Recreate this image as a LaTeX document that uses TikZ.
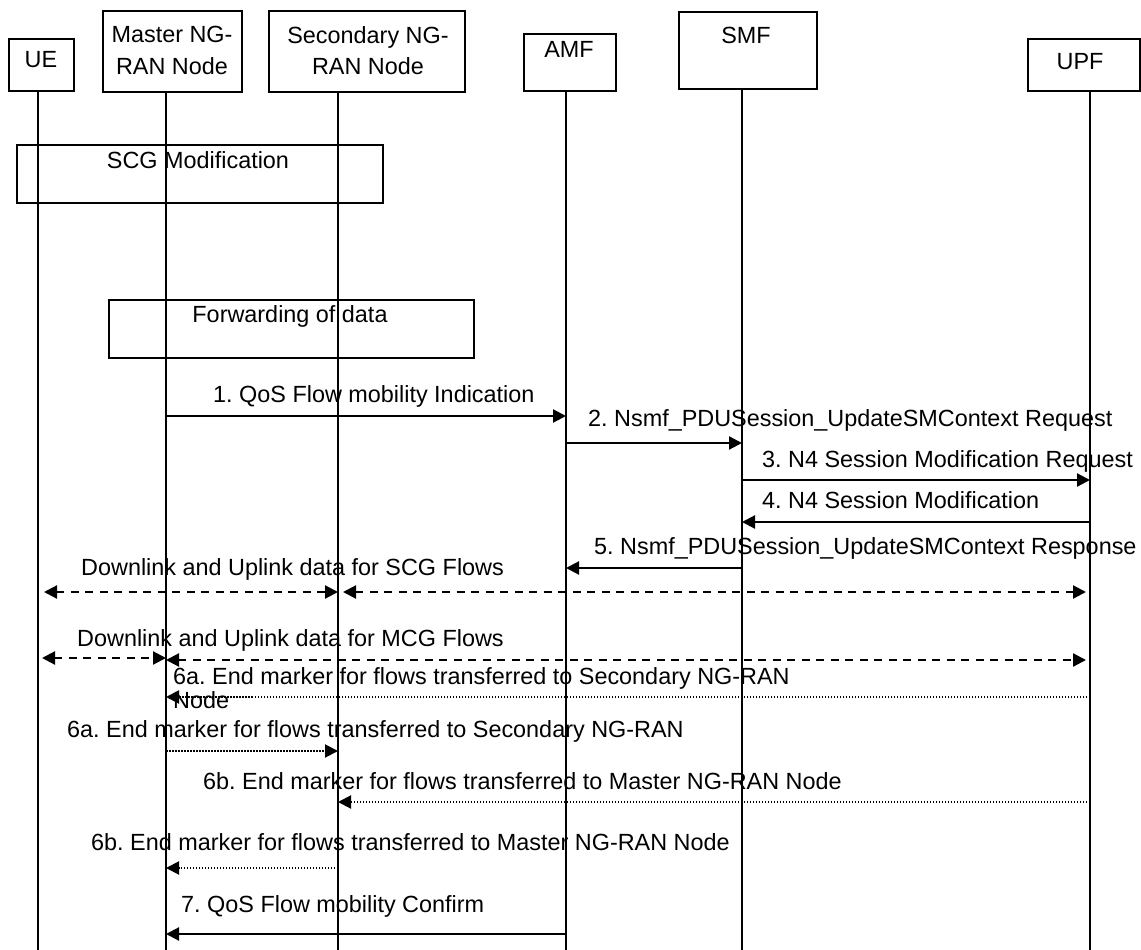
\documentclass[tikz,border=0pt]{standalone}
\usepackage{fontspec}
\setmainfont{Liberation Sans}
\usetikzlibrary{arrows.meta, positioning}
\frenchspacing

\begin{document}
\begin{tikzpicture}[
      x=1pt, y=-1pt,
      font=\fontsize{23.4}{24}\selectfont,
      head/.style={rectangle, draw, line width=1.8pt, anchor=north west, inner sep=0pt},
      grp/.style={rectangle, draw, line width=1.8pt, anchor=north west, inner sep=0pt},
      txt/.style={inner sep=0pt, anchor=base west},
      two/.style={inner sep=0pt, align=center, anchor=north, font=\fontsize{23.4}{31.5}\selectfont},
      life/.style={line width=1.6pt},
      msg/.style={-{Triangle[length=13pt, width=13pt]}, line width=2.2pt},
      data/.style={{Triangle[length=13pt, width=13pt]}-{Triangle[length=13pt, width=13pt]}, line width=2.2pt, dash pattern=on 8pt off 6.5pt},
      marker/.style={msg, line width=2pt, dash pattern=on 1.5pt off 1.5pt}
    ]
    \useasboundingbox (0,0) rectangle (1141,950);

    \node[head, minimum width=65, minimum height=52] (ue) at (8,38) {};
    \node[head, minimum width=139, minimum height=81] (mn) at (102,10) {};
    \node[head, minimum width=196, minimum height=81] (sn) at (268,10) {};
    \node[head, minimum width=92, minimum height=57] (amf) at (523,33) {};
    \node[head, minimum width=138, minimum height=77] (smf) at (678,11) {};
    \node[head, minimum width=112, minimum height=52] (upf) at (1027,38) {};

    \node[txt, anchor=base] (ueT) at (41,67) {UE};
    \node[two] (mnT) at (172,26) {Master NG-\\RAN Node};
    \node[two] (snT) at (368,26) {Secondary NG-\\RAN Node};
    \node[txt, anchor=base] (amfT) at (569,57.5) {AMF};
    \node[txt, anchor=base] (smfT) at (746,44) {SMF};
    \node[txt, anchor=base] (upfT) at (1080,70) {UPF};

    \coordinate (ue-l) at (38,0);
    \coordinate (mn-l) at (166,0);
    \coordinate (sn-l) at (338,0);
    \coordinate (amf-l) at (566,0);
    \coordinate (smf-l) at (742,0);
    \coordinate (upf-l) at (1090,0);

    \foreach \n in {ue,mn,sn,amf,smf,upf}
      \draw[life] (\n-l |- \n.south) -- (\n-l |- 0,950);

    \node[grp, minimum width=366, minimum height=58] (scg) at (16,144) {};
    \node[txt, anchor=base] (scgT) at (198,168) {SCG Modification};
    \node[grp, minimum width=365, minimum height=58] (fwd) at (108,299) {};
    \node[txt, anchor=base] (fwdT) at (290,322) {Forwarding of data};

    \node[txt] (m1) at (213,402) {1. QoS Flow mobility Indication};
    \draw[msg] (mn-l |- 0,416) -- (amf-l |- 0,416);

    \node[txt] (m2) at (588,426) {2. Nsmf\_PDUSession\_UpdateSMContext Request};
    \draw[msg] (amf-l |- 0,443) -- (smf-l |- 0,443);

    \node[txt] (m3) at (762,467) {3. N4 Session Modification Request};
    \draw[msg] (smf-l |- 0,480) -- (upf-l |- 0,480);

    \node[txt] (m4) at (762,508) {4. N4 Session Modification};
    \draw[msg] (upf-l |- 0,522) -- (smf-l |- 0,522);

    \node[txt] (m5) at (594,554) {5. Nsmf\_PDUSession\_UpdateSMContext Response};
    \draw[msg] (smf-l |- 0,568) -- (amf-l |- 0,568);

    \node[txt] (scgD) at (81,575) {Downlink and Uplink data for SCG Flows};
    \draw[data, shorten <=6pt] (ue-l |- 0,592) -- (sn-l |- 0,592);
    \draw[data, shorten <=5pt, shorten >=4pt] (sn-l |- 0,592) -- (upf-l |- 0,592);

    \node[txt] (mcgD) at (77,646) {Downlink and Uplink data for MCG Flows};
    \draw[data, shorten <=4pt] (ue-l |- 0,658) -- (mn-l |- 0,658);
    \draw[data, shorten >=4pt] (mn-l |- 0,660) -- (upf-l |- 0,660);

    \node[txt, align=left, anchor=north west] (m6a) at (173,667) {6a. End marker for flows transferred to Secondary NG-RAN\\Node};
    \draw[marker] (upf-l |- 0,697) -- (mn-l |- 0,697);

    \node[txt] (m6a2) at (67,737) {6a. End marker for flows transferred to Secondary NG-RAN};
    \draw[marker] (mn-l |- 0,751) -- (sn-l |- 0,751);

    \node[txt] (m6b) at (203,789) {6b. End marker for flows transferred to Master NG-RAN Node};
    \draw[marker] (upf-l |- 0,802) -- (sn-l |- 0,802);

    \node[txt] (m6b2) at (91,850) {6b. End marker for flows transferred to Master NG-RAN Node};
    \draw[marker] (sn-l |- 0,868) -- (mn-l |- 0,868);

    \node[txt] (m7) at (181,912) {7. QoS Flow mobility Confirm};
    \draw[msg] (amf-l |- 0,934) -- (mn-l |- 0,934);
  \end{tikzpicture}
\end{document}
